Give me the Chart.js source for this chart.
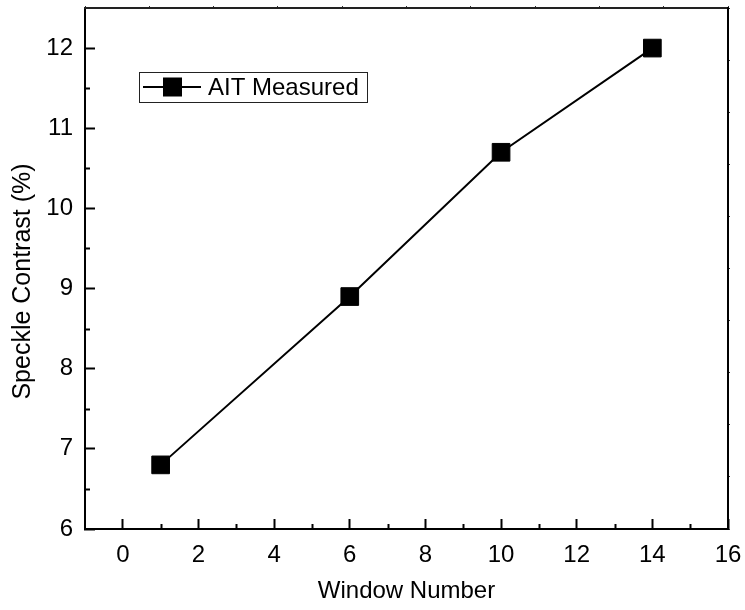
<!DOCTYPE html>
<html>
<head>
<meta charset="utf-8">
<script src="https://cdn.jsdelivr.net/npm/chart.js@4.4.1/dist/chart.umd.min.js"></script>
<style>
  html, body { margin: 0; padding: 0; background: #fff; }
  #wrap { width: 745px; height: 610px; }
</style>
</head>
<body>
<div id="wrap"><canvas id="chart" width="745" height="610"></canvas></div>
<script>
// Measured speckle contrast per window
const windowNumbers = [1, 6, 10, 14];
const speckleContrast = [6.8, 8.9, 10.7, 12.0];
const seriesLabel = 'AIT Measured';

const xTitle = 'Window Number';
const yTitle = 'Speckle Contrast (%)';

const FONT = '"Liberation Sans", Arial, Helvetica, sans-serif';
const FONT_SIZE = 24;

// Half-length inward ticks halfway between the labelled ticks
const minorTicks = {
  id: 'minorTicks',
  afterDraw(chart) {
    const { ctx, chartArea: a, scales } = chart;
    ctx.save();
    ctx.strokeStyle = '#000';
    ctx.lineWidth = 2;
    const mids = (ticks) => {
      const out = [];
      for (let i = 0; i < ticks.length - 1; i++) out.push((ticks[i].value + ticks[i + 1].value) / 2);
      return out;
    };
    const xs = scales.x, ys = scales.y;
    for (const v of mids(xs.ticks)) {
      const px = Math.round(xs.getPixelForValue(v)) + 0.5;
      ctx.beginPath(); ctx.moveTo(px, a.bottom); ctx.lineTo(px, a.bottom - 5); ctx.stroke();
    }
    for (const v of mids(ys.ticks)) {
      const py = Math.round(ys.getPixelForValue(v)) + 0.5;
      ctx.beginPath(); ctx.moveTo(a.left, py); ctx.lineTo(a.left + 5, py); ctx.stroke();
    }
    ctx.restore();
  }
};

// Vertical axis title, set a little below the axis centre
const yAxisTitle = {
  id: 'yAxisTitle',
  afterDraw(chart) {
    const { ctx, chartArea: a } = chart;
    ctx.save();
    ctx.translate(23, (a.top + a.bottom) / 2 + 13);
    ctx.rotate(-Math.PI / 2);
    ctx.fillStyle = '#000';
    ctx.font = '25px ' + FONT;
    ctx.textAlign = 'center';
    ctx.textBaseline = 'middle';
    ctx.fillText(yTitle, 0, 0);
    ctx.restore();
  }
};

// Boxed legend with a line-and-square sample
const boxLegend = {
  id: 'boxLegend',
  afterDraw(chart) {
    const { ctx, chartArea: a } = chart;
    const ds = chart.data.datasets[0];
    const bx = a.left + 54, by = a.top + 64, bw = 228, bh = 30;
    const cy = by + bh / 2;
    ctx.save();
    ctx.fillStyle = '#fff';
    ctx.fillRect(bx, by, bw, bh);
    ctx.strokeStyle = '#222';
    ctx.lineWidth = 1;
    ctx.strokeRect(bx + 0.5, by + 0.5, bw, bh);
    ctx.strokeStyle = ds.borderColor;
    ctx.lineWidth = 2;
    ctx.beginPath(); ctx.moveTo(bx + 4, cy); ctx.lineTo(bx + 62, cy); ctx.stroke();
    ctx.fillStyle = ds.pointBackgroundColor;
    ctx.fillRect(bx + 24, cy - 9.5, 19, 19);
    ctx.fillStyle = '#000';
    ctx.font = FONT_SIZE + 'px ' + FONT;
    ctx.textAlign = 'left';
    ctx.textBaseline = 'middle';
    ctx.fillText(ds.label, bx + 69, cy + 1);
    ctx.restore();
  }
};

const noPad = (s) => { s.paddingTop = 0; s.paddingBottom = 0; s.paddingLeft = 0; s.paddingRight = 0; };

new Chart(document.getElementById('chart'), {
  type: 'line',
  data: {
    datasets: [{
      label: seriesLabel,
      data: windowNumbers.map((w, i) => ({ x: w, y: speckleContrast[i] })),
      borderColor: '#000',
      borderWidth: 2,
      backgroundColor: '#000',
      pointStyle: 'rect',
      pointRadius: 12.5,
      pointBorderWidth: 1,
      pointBackgroundColor: '#000',
      pointBorderColor: '#000',
      tension: 0,
      xAxisID: 'x',
      yAxisID: 'y'
    }]
  },
  options: {
    responsive: false,
    animation: false,
    layout: { padding: 0, autoPadding: false },
    plugins: { legend: { display: false }, tooltip: { enabled: false } },
    scales: {
      x: {
        type: 'linear',
        position: 'bottom',
        min: -1,
        max: 16,
        afterBuildTicks: (s) => { s.ticks = s.ticks.filter(t => t.value % 2 === 0); },
        afterFit: (s) => { s.height = 81; noPad(s); },
        ticks: { stepSize: 1, color: '#000', font: { family: FONT, size: FONT_SIZE }, padding: 22, maxRotation: 0, autoSkip: false },
        grid: { drawOnChartArea: false, drawTicks: true, tickLength: -10, tickWidth: 2, tickColor: '#000' },
        border: { display: true, color: '#000', width: 2 },
        title: { display: true, text: xTitle, color: '#000', font: { family: FONT, size: FONT_SIZE }, padding: { top: 6, bottom: 4 } }
      },
      y: {
        type: 'linear',
        position: 'left',
        min: 6,
        max: 12.5,
        afterBuildTicks: (s) => { s.ticks = s.ticks.filter(t => Number.isInteger(t.value)); },
        afterFit: (s) => { s.width = 85; noPad(s); },
        ticks: { stepSize: 1, color: '#000', font: { family: FONT, size: FONT_SIZE }, padding: 22 },
        grid: { drawOnChartArea: false, drawTicks: true, tickLength: -10, tickWidth: 2, tickColor: '#000' },
        border: { display: true, color: '#000', width: 2 },
        title: { display: false }
      },
      x2: {
        type: 'linear',
        position: 'top',
        min: 0,
        max: 10,
        afterFit: (s) => { s.height = 8; noPad(s); },
        ticks: { display: false, stepSize: 1 },
        grid: { drawOnChartArea: false, drawTicks: true, tickLength: 2, tickWidth: 1, tickColor: '#333' },
        border: { display: true, color: '#222', width: 2 }
      },
      y2: {
        type: 'linear',
        position: 'right',
        min: 0,
        max: 10,
        afterFit: (s) => { s.width = 17; noPad(s); },
        ticks: { display: false, stepSize: 1 },
        grid: { drawOnChartArea: false, drawTicks: true, tickLength: 2, tickWidth: 1, tickColor: '#333' },
        border: { display: true, color: '#000', width: 2 }
      }
    }
  },
  plugins: [minorTicks, yAxisTitle, boxLegend]
});
</script>
</body>
</html>
